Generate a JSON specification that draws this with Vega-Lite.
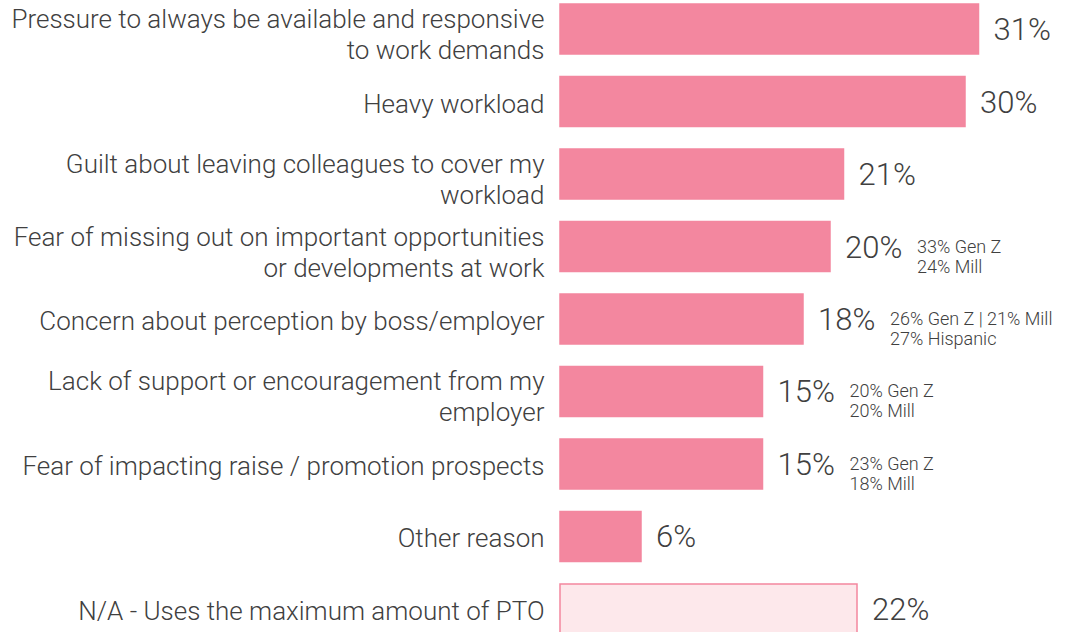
{
  "$schema": "https://vega.github.io/schema/vega-lite/v6.json",
  "width": 513,
  "height": 630,
  "autosize": {"type": "none"},
  "padding": {"left": 560, "top": 4, "right": 0, "bottom": 0},
  "background": "white",
  "config": {"view": {"stroke": null}, "font": "Roboto"},
  "data": {
    "values": [
      {"label": "Pressure to always be available and responsive\nto work demands", "value": 0.31, "type": "main", "note": ""},
      {"label": "Heavy workload", "value": 0.30, "type": "main", "note": ""},
      {"label": "Guilt about leaving colleagues to cover my\nworkload", "value": 0.21, "type": "main", "note": ""},
      {"label": "Fear of missing out on important opportunities\nor developments at work", "value": 0.20, "type": "main", "note": "33% Gen Z\n24% Mill"},
      {"label": "Concern about perception by boss/employer", "value": 0.18, "type": "main", "note": "26% Gen Z | 21% Mill\n27% Hispanic"},
      {"label": "Lack of support or encouragement from my\nemployer", "value": 0.15, "type": "main", "note": "20% Gen Z\n20% Mill"},
      {"label": "Fear of impacting raise / promotion prospects", "value": 0.15, "type": "main", "note": "23% Gen Z\n18% Mill"},
      {"label": "Other reason", "value": 0.06, "type": "main", "note": ""},
      {"label": "N/A - Uses the maximum amount of PTO", "value": 0.22, "type": "na", "note": ""}
    ]
  },
  "encoding": {
    "y": {
      "field": "label",
      "type": "nominal",
      "sort": null,
      "scale": {"paddingInner": 0.31, "paddingOuter": 0},
      "axis": {
        "title": null,
        "domain": false,
        "ticks": false,
        "labelPadding": 16,
        "labelFontSize": 26,
        "labelFont": "Roboto",
        "labelFontWeight": 300,
        "labelColor": "#404040",
        "labelLimit": 600,
        "labelLineHeight": 31,
        "labelOffset": {"condition": {"test": "indexof(datum.label, '\\n') >= 0", "value": -9}, "value": 3},
        "labelExpr": "split(datum.label, '\\n')"
      }
    },
    "x": {
      "field": "value",
      "type": "quantitative",
      "scale": {"domain": [0, 0.38], "nice": false},
      "axis": null
    }
  },
  "layer": [
    {
      "mark": {"type": "bar", "strokeWidth": 1.5},
      "encoding": {
        "fill": {
          "field": "type",
          "type": "nominal",
          "scale": {"domain": ["main", "na"], "range": ["#F3879F", "#FDE8EB"]},
          "legend": null
        },
        "stroke": {
          "field": "type",
          "type": "nominal",
          "scale": {"domain": ["main", "na"], "range": ["#F3879F", "#F3879F"]},
          "legend": null
        }
      }
    },
    {
      "mark": {"type": "text", "align": "left", "baseline": "middle", "dx": 15, "dy": 2, "fontSize": 31, "fontWeight": 300, "color": "#404040"},
      "encoding": {"text": {"field": "value", "type": "quantitative", "format": ".0%"}}
    },
    {
      "transform": [{"filter": "datum.note != ''"}],
      "mark": {"type": "text", "align": "left", "baseline": "middle", "dx": 87, "dy": 1, "fontSize": 18, "fontWeight": 300, "lineHeight": 20, "lineBreak": "\n", "color": "#404040"},
      "encoding": {"text": {"field": "note", "type": "nominal"}}
    }
  ]
}
